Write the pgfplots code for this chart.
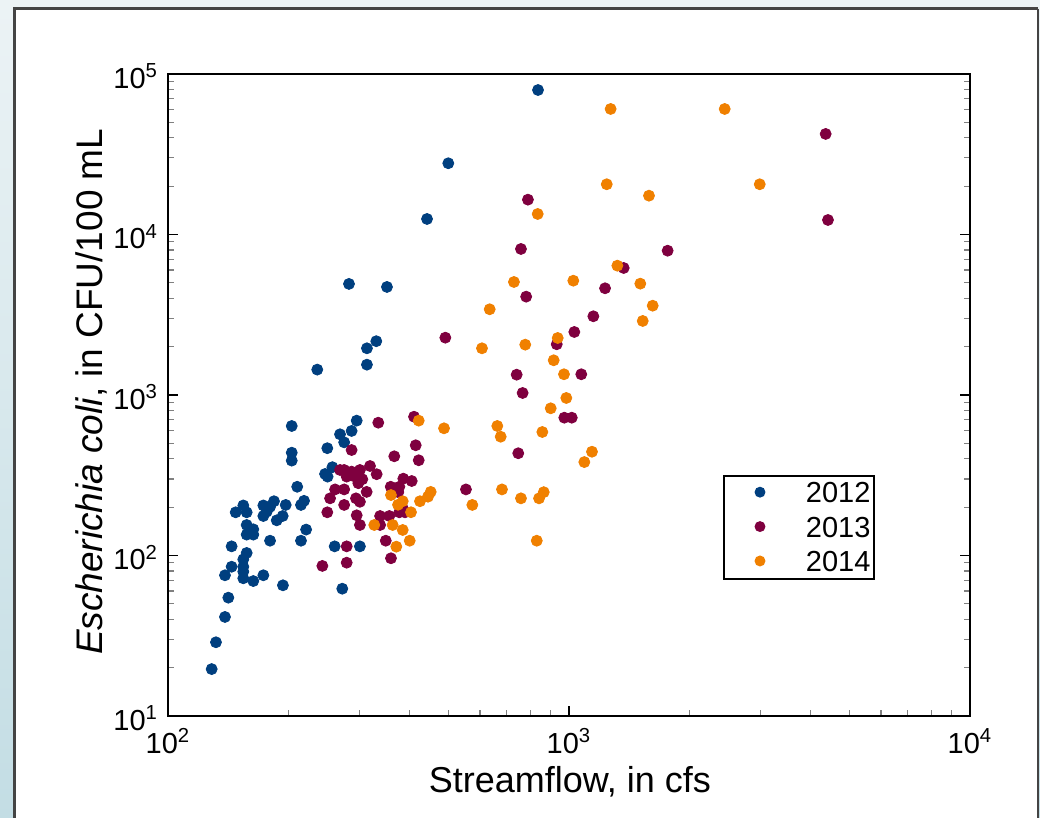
\documentclass[border=0pt]{standalone}
\usepackage{pgfplots}
\pgfplotsset{compat=1.18}
\usepackage{fontspec}
\setmainfont{Liberation Sans}
\definecolor{cA}{RGB}{0,63,127}
\definecolor{cB}{RGB}{127,0,63}
\definecolor{cC}{RGB}{240,128,0}
\definecolor{frame}{RGB}{68,68,68}
\begin{document}
\begin{tikzpicture}
\path[use as bounding box] (0,0) rectangle (520pt,409pt);
\shade[top color={rgb,255:red,236;green,243;blue,245}, bottom color={rgb,255:red,195;green,221;blue,228}] (0,0) rectangle (520pt,409pt);
\fill[white] (7pt,0) rectangle (519pt,404.5pt);
\draw[line width=1.5pt, frame] (7pt,0) -- (7pt,404.5pt) -- (519pt,404.5pt);
\draw[line width=0.6pt, frame] (519pt,404.5pt) -- (519pt,0);
\begin{axis}[
  at={(84pt,51pt)}, anchor=south west,
  scale only axis, width=401pt, height=321pt,
  xmode=log, ymode=log,
  xmin=100, xmax=10000, ymin=10, ymax=100000,
  axis line style={line width=1pt},
  xtick={100,1000,10000},
  xticklabels={10\textsuperscript{2},10\textsuperscript{3},10\textsuperscript{4}},
  ytick={10,100,1000,10000,100000},
  yticklabels={10\textsuperscript{1},10\textsuperscript{2},10\textsuperscript{3},10\textsuperscript{4},10\textsuperscript{5}},
  xtick pos=left, ytick pos=both,
  tick align=inside,
  major tick length=5pt, minor tick length=3pt,
  major tick style={black, line width=0.6pt},
  minor tick style={gray, line width=0.6pt},
  ticklabel style={font=\fontsize{14.5}{16}\selectfont},
  yticklabel style={xshift=-1.5pt, yshift=-1pt},
  xticklabel style={yshift=-2.8pt},
  xlabel={Streamflow, in cfs},
  ylabel={\textit{Escherichia coli}, in CFU/100 mL},
  xlabel style={font=\fontsize{18}{20}\selectfont, at={(axis description cs:0.501,-0.103)}, anchor=center},
  ylabel style={font=\fontsize{18.5}{20}\selectfont, at={(axis description cs:-0.096,0.505)}, anchor=center},
  legend style={at={(0.692,0.3754)}, anchor=north west, draw=black, line width=1pt,
    inner xsep=1.5pt, inner ysep=0pt, row sep=0pt,
    font=\fontsize{14.5}{16}\selectfont,
    nodes={inner sep=0pt, text height=13.5pt, text depth=3.7pt}},
  legend cell align=left,
  legend image code/.code={\path (0pt,0pt) (38.5pt,0pt); \draw[only marks, mark size=2.2pt] plot coordinates {(16pt,0.5pt)};},
]
\addplot[only marks, mark=*, mark size=2.75pt, color=cA] coordinates {
(203.5,641) (203.5,437) (203.5,390) (295.5,692) (287,597) (268.5,569) (275,507)
(249.6,466) (257,355) (246.4,322) (250,310) (210,268) (218.4,219) (214.6,206.5)
(221,145) (214.6,123.6) (260.4,114) (301,114) (272,62.1) (193.5,65.2) (196.6,206.5)
(183.8,217.8) (179.7,201) (172.9,205) (176.3,187.5) (172.9,176.2) (193.2,176.2)
(186.7,165.6) (179.7,123.6) (154.1,205) (157.1,185.8) (147.5,185.8) (157.1,154.9)
(163.2,145.6) (157.1,134.9) (163.2,134.9) (144.1,114) (157.1,103.7) (154.1,94.6)
(144.1,85.1) (154.1,85.1) (154.1,79.3) (154.1,72.1) (163.2,69.3) (138.7,75.3)
(172.9,75.3) (141.4,54.6) (138.7,41.4) (131.7,28.8) (128.5,19.6) (235.6,1439)
(313.4,1954) (330.7,2163) (313.4,1545) (282.7,4920) (351.6,4710) (442.5,12490)
(500,27780) (837,79450)
};
\addlegendentry{2012}
\addplot[only marks, mark=*, mark size=2.75pt, color=cB] coordinates {
(410.7,732) (334.5,672) (414.7,486) (287,454) (366.7,415) (421.9,392) (268.5,341)
(275,341) (287,333) (301,341) (319,361) (331.4,321) (279,310) (292.6,310)
(305.2,298.5) (298.3,282) (261,258) (275,258) (312.9,249) (253.6,227) (294.3,227)
(301,216) (275,206.5) (249.6,185.8) (295.5,178) (301,154.9) (338,176.2)
(356.4,176.2) (338,154.9) (386.3,301) (405.3,291) (359.3,268) (377.5,268)
(375.3,248) (384.9,197) (377.5,185.8) (390,185.8) (553.4,258) (349.2,123.6)
(359.8,96.1) (279,114) (279,90.2) (242.6,86.1) (491.6,2275) (740.5,1338)
(766.3,1029) (747.3,433.5) (973.4,722) (1016,722) (4366,42300) (4424,12310)
(790,16480) (759,8123) (1762,7925) (1369,6184) (782,4098) (1230,4622) (1150,3093)
(1031,2469) (932,2070) (1073,1346)
};
\addlegendentry{2013}
\addplot[only marks, mark=*, mark size=2.75pt, color=cC] coordinates {
(1270,60530) (2445,60530) (1242,20550) (2990,20550) (1583,17450) (835.5,13420)
(1320,6392) (1025,5153) (729,5058) (1506,4938) (634.2,3420) (1617,3600)
(1527,2892) (606.7,1954) (778,2058) (937.2,2265) (915.8,1645) (971.6,1346)
(984.7,958) (900.3,826) (662.5,641) (675.6,549.5) (858,588) (1141,443) (1092,382)
(680.6,258) (759,227) (865,248) (842,227) (574,206.5) (831,123.6) (487.9,620)
(421.9,692) (359.8,238) (384.9,217.8) (374.7,207) (403.6,186) (452,249)
(445,232.5) (425,217.8) (326.9,154.9) (363.3,154.9) (384.9,144.2) (400.6,123.6)
(371,113.5)
};
\addlegendentry{2014}
\end{axis}
\end{tikzpicture}
\end{document}
